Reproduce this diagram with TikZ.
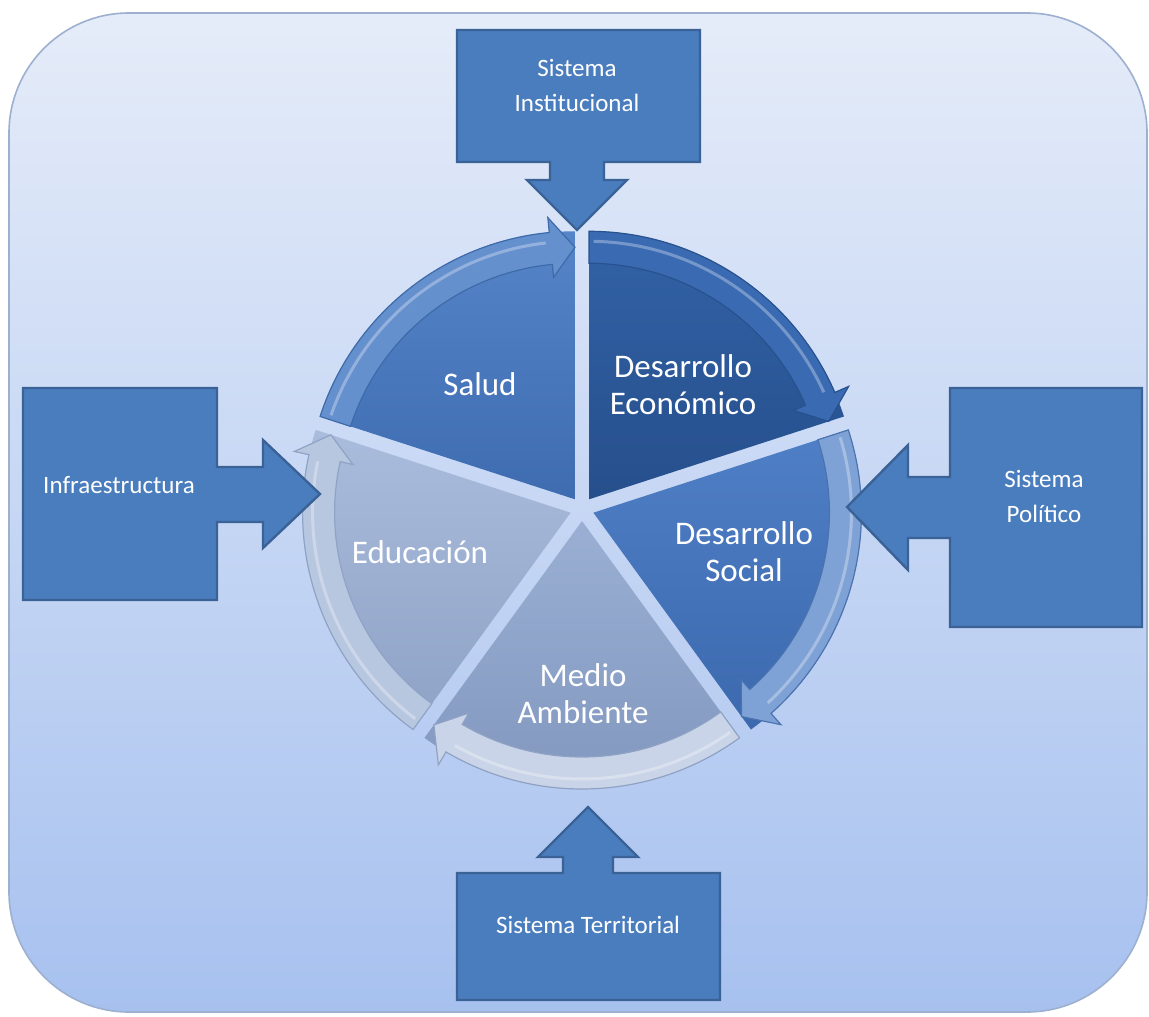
\documentclass[tikz,border=0pt]{standalone}
\usepackage{fontspec}
\setmainfont{Carlito}
\definecolor{bgtop}{HTML}{E5ECF9}
\definecolor{bgbot}{HTML}{A7C1EF}
\definecolor{bgline}{HTML}{9DB0D0}
\definecolor{cbox}{HTML}{4A7DBD}
\definecolor{cboxline}{HTML}{3A6296}
\definecolor{salT}{HTML}{5584C8}\definecolor{salB}{HTML}{3F6CB1}\definecolor{salBand}{HTML}{6590CE}\definecolor{salLine}{HTML}{3F6AAA}
\definecolor{decT}{HTML}{3262A6}\definecolor{decB}{HTML}{264F8C}\definecolor{decBand}{HTML}{3A6BB2}\definecolor{decLine}{HTML}{27528F}
\definecolor{dsoT}{HTML}{4F7FC6}\definecolor{dsoB}{HTML}{3C69AE}\definecolor{dsoBand}{HTML}{7FA2D6}\definecolor{dsoLine}{HTML}{4A73B0}
\definecolor{maT}{HTML}{9AAFD3}\definecolor{maB}{HTML}{8096BD}\definecolor{maBand}{HTML}{C9D4E8}\definecolor{maLine}{HTML}{8FA2C4}
\definecolor{edT}{HTML}{AABCDC}\definecolor{edB}{HTML}{8EA2C6}\definecolor{edBand}{HTML}{B8C7E0}\definecolor{edLine}{HTML}{8FA3C6}
\begin{document}
\begin{tikzpicture}[x=0.5pt,y=-0.5pt,
  callout/.style={fill=cbox, draw=cboxline, line width=1.2pt, line join=miter},
  ctext/.style={text=white, font=\fontsize{12.5}{17.5}\selectfont, align=center},
  wtext/.style={text=white, font=\fontsize{16.5}{18.5}\selectfont, align=center}]
\useasboundingbox (0,0) rectangle (1149,1016);
\fill[white] (0,0) rectangle (1149,1016);
\shade[top color=bgtop, bottom color=bgbot, draw=bgline, line width=0.8pt, rounded corners=60pt] (9,13) rectangle (1147,1012);
% pie
\begin{scope}[shift={(582,509)}, yscale=-1]
\foreach \m/\wt/\wb/\bandc/\bandl in {126/salT/salB/salBand/salLine, 54/decT/decB/decBand/decLine, -18/dsoT/dsoB/dsoBand/dsoLine, -90/maT/maB/maBand/maLine, -162/edT/edB/edBand/edLine}{
  \begin{scope}[shift={(\m:12)}]
    \pgfmathsetmacro\sa{\m+36}
    \pgfmathsetmacro\ea{\m-36}
    \pgfmathsetmacro\ba{\ea+5.5}
    \shade[top color=\wt, bottom color=\wb] (0,0) -- (\ea:268) arc[start angle=\ea, end angle=\sa, radius=268] -- cycle;
    \fill[\bandc, draw=\bandl, line width=0.6pt, line join=miter]
      (\sa:236) arc[start angle=\sa, end angle=\ba, radius=236] -- (\ba:223) -- (\ea:252) -- (\ba:283) -- (\ba:268) arc[start angle=\ba, end angle=\sa, radius=268] -- cycle;
    \draw[white, opacity=0.3, line width=1.5pt] (\sa-1:258) arc[start angle=\sa-1, end angle=\ba+1, radius=258];
  \end{scope}
}
\end{scope}
\node[wtext] (salud) at (480,384) {Salud};
\node[wtext] (deco) at (683,385) {Desarrollo\\Económico};
\node[wtext] (dsoc) at (744,552) {Desarrollo\\Social};
\node[wtext] (mamb) at (583,694) {Medio\\Ambiente};
\node[wtext] (educ) at (420,552) {Educación};
% callouts
\draw[callout] (457,30) -- (700,30) -- (700,162) -- (604,162) -- (604,180) -- (627,180) -- (577,230) -- (527,180) -- (550,180) -- (550,162) -- (457,162) -- cycle;
\node[ctext] (sinst) at (577,85) {Sistema\\Institucional};
\draw[callout] (23,388) -- (217,388) -- (217,467) -- (263,467) -- (263,440) -- (320,494) -- (263,548) -- (263,522) -- (217,522) -- (217,600) -- (23,600) -- cycle;
\node[ctext] (infra) at (119,485) {Infraestructura};
\draw[callout] (1142,388) -- (950,388) -- (950,477) -- (908,477) -- (908,445) -- (847,507) -- (908,570) -- (908,538) -- (950,538) -- (950,627) -- (1142,627) -- cycle;
\node[ctext] (spol) at (1044,496) {Sistema\\Político};
\draw[callout] (457,1000) -- (720,1000) -- (720,873) -- (613,873) -- (613,857) -- (638,857) -- (588,807) -- (538,857) -- (563,857) -- (563,873) -- (457,873) -- cycle;
\node[ctext] (sterr) at (588,925) {Sistema Territorial};
\end{tikzpicture}
\end{document}
